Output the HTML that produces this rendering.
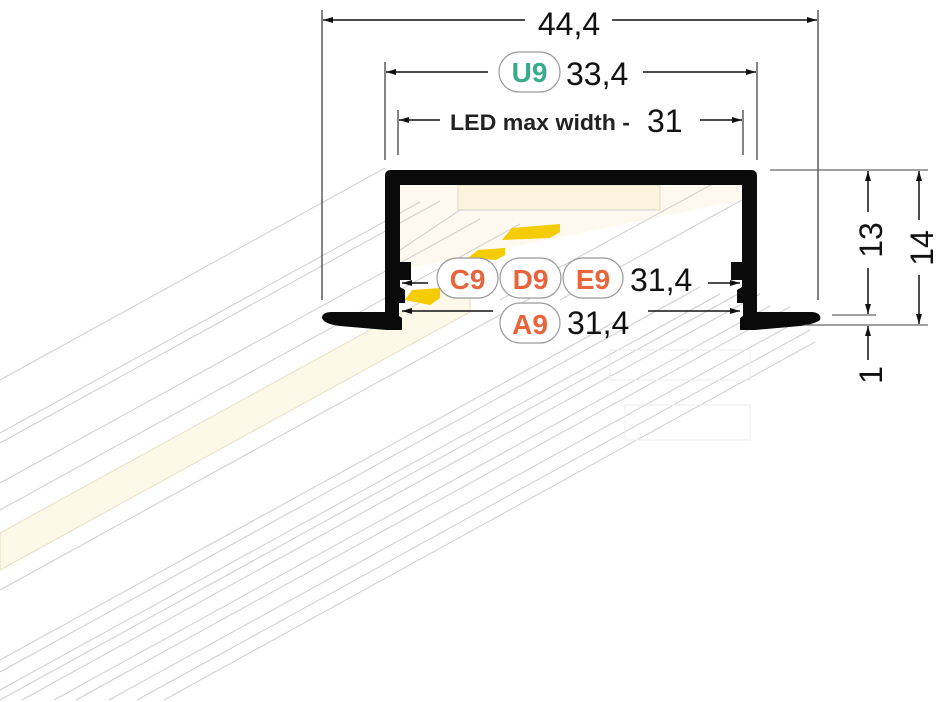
<!DOCTYPE html>
<html><head><meta charset="utf-8"><style>
html,body{margin:0;padding:0;background:#fff;width:939px;height:702px;overflow:hidden;}
svg{display:block;}
text{font-family:"Liberation Sans",sans-serif;}
</style></head><body>
<svg width="939" height="702" viewBox="0 0 939 702" xmlns="http://www.w3.org/2000/svg">
<defs>
<marker id="a" viewBox="0 0 10 6" refX="10" refY="3" markerWidth="14" markerHeight="6" orient="auto-start-reverse" markerUnits="userSpaceOnUse"><path d="M0,0 L10,3 L0,6 Z" fill="#111"/></marker>
</defs>
<polygon points="0,533 470,275 470,312 0,570" fill="#fdf8e8" stroke="#e8dfc4" stroke-width="1"/>
<polygon points="400,185 742,185 742,200 400,270" fill="#fdf9ee"/>
<polygon points="458,185 660,185 660,210 458,210" fill="#fbf3dc" stroke="#e6dcc0" stroke-width="1"/>
<polyline points="400,250 460,210 655,210" fill="none" stroke="#ccc" stroke-width="1"/>
<g stroke="#cfcfcf" stroke-width="1" fill="none">
<line x1="0" y1="380" x2="385" y2="168"/>
<line x1="0" y1="433" x2="420" y2="202"/>
<line x1="0" y1="443" x2="440" y2="201"/>
<line x1="0" y1="483" x2="480" y2="219"/>
<line x1="0" y1="510" x2="520" y2="224"/>
<line x1="0" y1="590" x2="560" y2="282"/>
<line x1="0" y1="660" x2="620" y2="319"/>
<line x1="0" y1="672" x2="700" y2="287"/>
<line x1="0" y1="690" x2="720" y2="294"/>
<line x1="0" y1="700" x2="740" y2="293"/>
<line x1="22" y1="700" x2="760" y2="294"/>
<line x1="54" y1="700" x2="770" y2="306"/>
<line x1="76" y1="700" x2="790" y2="307"/>
<line x1="109" y1="700" x2="800" y2="320"/>
<line x1="137" y1="700" x2="810" y2="330"/>
<line x1="164" y1="700" x2="815" y2="342"/>
<line x1="500" y1="300" x2="720" y2="180"/>
<line x1="560" y1="300" x2="742" y2="200"/>
</g>
<g stroke="#eee" fill="none"><rect x="610" y="350" width="140" height="30"/><rect x="625" y="405" width="125" height="35"/></g>
<polygon points="502,240 512,228 560,224 560,232 550,238" fill="#f4cc00"/>
<polygon points="468,258 478,250 505,248 505,255 496,260" fill="#f4cc00"/>
<polygon points="405,300 412,290 440,288 440,298 430,305" fill="#f4cc00"/>
<path d="M385,176 Q385,170 391,170 H751 Q757,170 757,176 V312 H812 Q822,313 820,320 Q815,324 800,326 L755,330 H740 V318 L743,316 V303 H737 V290 L742,287 V280 H731 V262 H742 V185 H400 V262 H411 V280 H400 V287 L405,290 V303 H399 V316 L402,318 V330 H387 L340,326 Q324,324 322,318 Q322,312 332,312 H385 Z" fill="#0a0a0a"/>
<g stroke="#333" stroke-width="1.2" fill="none">
<line x1="322" y1="10" x2="322" y2="300"/>
<line x1="818" y1="10" x2="818" y2="300"/>
<line x1="385" y1="62" x2="385" y2="160"/>
<line x1="757" y1="62" x2="757" y2="160"/>
<line x1="398" y1="110" x2="398" y2="155"/>
<line x1="743" y1="110" x2="743" y2="155"/>
<line x1="770" y1="170" x2="928" y2="170" stroke="#666"/>
<line x1="832" y1="315" x2="876" y2="315" stroke="#666"/>
<line x1="805" y1="325" x2="928" y2="325" stroke="#666"/>
</g>
<g stroke="#111" stroke-width="1.5" fill="none">
<line x1="323" y1="20" x2="525" y2="20" marker-start="url(#a)"/>
<line x1="612" y1="20" x2="817" y2="20" marker-end="url(#a)"/>
<line x1="386" y1="72" x2="488" y2="72" marker-start="url(#a)"/>
<line x1="643" y1="72" x2="756" y2="72" marker-end="url(#a)"/>
<line x1="399" y1="120" x2="440" y2="120" marker-start="url(#a)"/>
<line x1="700" y1="120" x2="742" y2="120" marker-end="url(#a)"/>
<line x1="402" y1="283" x2="428" y2="283" marker-start="url(#a)"/>
<line x1="708" y1="283" x2="740" y2="283" marker-end="url(#a)"/>
<line x1="402" y1="311" x2="493" y2="311" marker-start="url(#a)"/>
<line x1="648" y1="311" x2="740" y2="311" marker-end="url(#a)"/>
<line x1="868" y1="212" x2="868" y2="171" marker-end="url(#a)"/>
<line x1="868" y1="268" x2="868" y2="314" marker-end="url(#a)"/>
<line x1="919" y1="220" x2="919" y2="171" marker-end="url(#a)"/>
<line x1="919" y1="275" x2="919" y2="324" marker-end="url(#a)"/>
<line x1="868" y1="360" x2="868" y2="326" marker-end="url(#a)"/>
</g>
<g fill="#fff" stroke="#999" stroke-width="1.2">
<rect x="499" y="52" width="61" height="40" rx="20"/>
<rect x="437" y="258" width="61" height="40" rx="20"/>
<rect x="500" y="258" width="61" height="40" rx="20"/>
<rect x="563" y="258" width="60" height="40" rx="20"/>
<rect x="500" y="303" width="60" height="40" rx="20"/>
</g>
<g font-weight="bold" font-size="28" text-anchor="middle">
<text x="529.5" y="82" fill="#3aaa8c">U9</text>
<text x="467.5" y="289" fill="#e8643a">C9</text>
<text x="530.5" y="289" fill="#e8643a">D9</text>
<text x="593" y="289" fill="#e8643a">E9</text>
<text x="530" y="334" fill="#e8643a">A9</text>
</g>
<g fill="#111" font-size="32">
<text x="569" y="35" text-anchor="middle">44,4</text>
<text x="566" y="85">33,4</text>
<text x="647" y="132">31</text>
<text x="630" y="291">31,4</text>
<text x="567" y="334">31,4</text>
<text transform="translate(882,240) rotate(-90)" text-anchor="middle">13</text>
<text transform="translate(933,248) rotate(-90)" text-anchor="middle">14</text>
<text transform="translate(882,375) rotate(-90)" text-anchor="middle">1</text>
</g>
<text x="450" y="130" font-size="22" font-weight="bold" fill="#222" textLength="180" lengthAdjust="spacingAndGlyphs">LED max width -</text>
</svg>
</body></html>
